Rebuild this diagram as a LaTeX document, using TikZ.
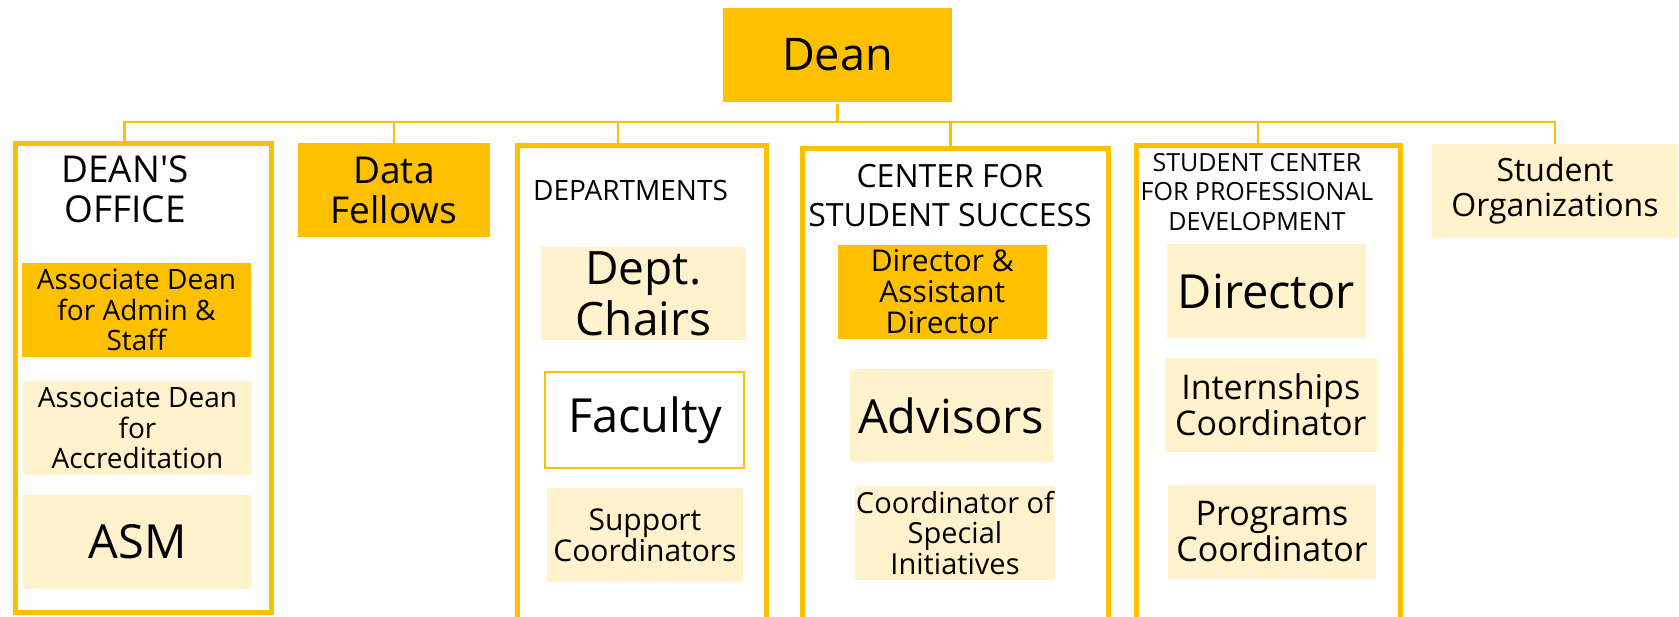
\documentclass[tikz,border=0pt]{standalone}
\usepackage{fontspec}
\setmainfont[Ligatures=TeXOff]{Open Sans}
\usetikzlibrary{calc}
\definecolor{cY}{HTML}{FFC000}
\definecolor{cL}{HTML}{FFF2CC}
\newcommand\myfs[2]{\fontsize{#1pt}{#2pt}\selectfont}
\tikzset{
  dark/.style={fill=cY, inner sep=0pt, align=center},
  light/.style={fill=cL, inner sep=0pt, align=center},
  plainbox/.style={fill=white, draw=cY, line width=2pt, inner sep=0pt, align=center},
  frame/.style={draw=cY, line width=5pt, inner sep=0pt},
  title/.style={inner sep=0pt, align=center},
  conn/.style={draw=cY, line width=2.5pt},
}
\begin{document}
\begin{tikzpicture}[x=1pt,y=-1pt]
\useasboundingbox (0,0) rectangle (1679,616);
\clip (0,0) rectangle (1679,616);

% frames
\node[frame, minimum width=256.5pt, minimum height=469.6pt] (fdo) at (143.25,378) {};
\node[frame, minimum width=249pt, minimum height=495pt] (fdep) at (641.5,392.5) {};
\node[frame, minimum width=305.5pt, minimum height=492pt] (fcss) at (955.25,394) {};
\node[frame, minimum width=264pt, minimum height=495pt] (fscpd) at (1268,392.5) {};

% top
\node[dark, minimum width=229pt, minimum height=94pt, font=\myfs{45}{48}] (dean) at (837.5,55) {Dean};
\node[dark, minimum width=192pt, minimum height=94pt, font=\myfs{37}{40}] (df) at (394,190) {Data\\Fellows};
\node[light, minimum width=245.7pt, minimum height=94pt, font=\myfs{32}{35}] (so) at (1555,191) {Student\\Organizations};

% titles
\node[title, font=\myfs{37}{40}] (tdo) at (125,189.5) {DEAN'S\\OFFICE};
\node[title, font=\myfs{28}{30}, anchor=base] (tdep) at (630.5,200) {DEPARTMENTS};
\node[title, font=\myfs{32}{39}] (tcss) at (950,195.5) {CENTER FOR\\STUDENT SUCCESS};
\node[title, font=\myfs{25}{29.5}] (tscpd) at (1257,192) {STUDENT CENTER\\FOR PROFESSIONAL\\DEVELOPMENT};

% dean's office
\node[dark, minimum width=229pt, minimum height=94pt, font=\myfs{28}{30.5}] (ada) at (136.5,310) {Associate Dean\\for Admin \&\\Staff};
\node[light, minimum width=229pt, minimum height=94pt, font=\myfs{28}{30.5}] (adacc) at (137.5,428) {Associate Dean\\for\\Accreditation};
\node[light, minimum width=229pt, minimum height=94pt, font=\myfs{47}{50}] (asm) at (137.5,542) {ASM};

% departments
\node[light, minimum width=204.7pt, minimum height=93pt, font=\myfs{46}{51}] (chairs) at (643.4,293.5) {Dept.\\Chairs};
\node[plainbox, minimum width=199pt, minimum height=96pt, font=\myfs{47}{50}] (fac) at (644.9,420) {Faculty};
\node[light, minimum width=196.3pt, minimum height=94pt, font=\myfs{30}{31}] (sup) at (644.9,535) {Support\\Coordinators};

% center for student success
\node[dark, minimum width=209.5pt, minimum height=94pt, font=\myfs{30}{31}] (dir) at (942.3,292) {Director \&\\Assistant\\Director};
\node[light, minimum width=203pt, minimum height=93pt, font=\myfs{47}{50}] (adv) at (951.2,415.5) {Advisors};
\node[light, minimum width=200pt, minimum height=94pt, font=\myfs{29}{30.5}] (csi) at (955,533) {Coordinator of\\Special\\Initiatives};

% student center for professional development
\node[light, minimum width=199pt, minimum height=94pt, font=\myfs{47}{50}] (pdir) at (1266.5,291) {Director};
\node[light, minimum width=212.4pt, minimum height=94pt, font=\myfs{34}{36}] (intern) at (1270.8,405) {Internships\\Coordinator};
\node[light, minimum width=207.5pt, minimum height=94pt, font=\myfs{34}{36}] (prog) at (1272,532) {Programs\\Coordinator};

% connectors
\coordinate (bus) at (837.5,122);
\draw[conn, shorten <=2pt] (dean.south) -- (dean.south |- bus);
\draw[conn] ([xshift=-19pt]fdo.north) |- (bus);
\draw[conn] (df.north) |- (bus);
\draw[conn] ([xshift=-23.5pt]fdep.north) |- (bus);
\draw[conn] ([xshift=-5pt]fcss.north) |- (bus);
\draw[conn] ([xshift=-10pt]fscpd.north) |- (bus);
\draw[conn] (so.north) |- (bus);
\end{tikzpicture}
\end{document}
